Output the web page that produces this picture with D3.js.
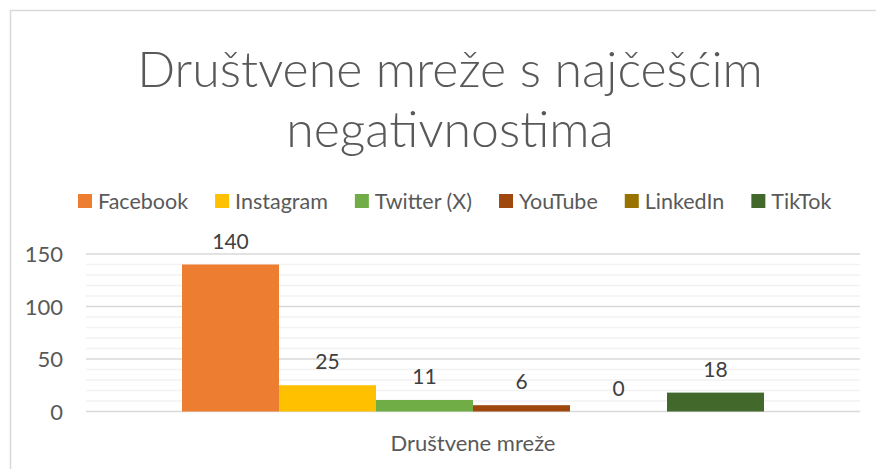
<!DOCTYPE html>
<html lang="hr">
<head>
<meta charset="UTF-8">
<title>Društvene mreže s najčešćim negativnostima</title>
<script src="https://d3js.org/d3.v7.min.js"></script>
<style>
    body { margin: 0; background: #fff; }
    svg { display: block; font-family: Lato, "Noto Sans", sans-serif; }
    .tick-label { fill: #595959; font-size: 22px; }
    .data-label { fill: #404040; font-size: 21px; }
    .legend-label { fill: #595959; font-size: 21.5px; }
</style>
</head>
<body>
<svg id="chart" width="878" height="469"></svg>
<script>
    // data
    const category = "Društvene mreže";
    const networks = ["Facebook", "Instagram", "Twitter (X)", "YouTube", "LinkedIn", "TikTok"];
    const counts = [140, 25, 11, 6, 0, 18];
    const colors = ["#ED7D31", "#FFC000", "#70AD47", "#9E480E", "#997300", "#43682B"];
    const yTicks = [0, 50, 100, 150];
    const titleLines = ["Društvene mreže s najčešćim", "negativnostima"];

    const width = 878, height = 469;
    const plot = { left: 86, right: 860, top: 254, bottom: 411.5 };

    const svg = d3.select("#chart");

    // chart area border (left and top only visible)
    svg.append("path")
        .attr("d", `M10.5,${height} V10.5 H${width - 2}`)
        .attr("fill", "none")
        .attr("stroke", "#d9d9d9")
        .attr("stroke-width", 1.5);

    // title
    svg.append("text")
        .attr("text-anchor", "middle")
        .attr("fill", "#595959")
        .attr("font-size", 50)
        .attr("font-weight", 300)
        .selectAll("tspan")
        .data(titleLines)
        .enter().append("tspan")
        .attr("x", 450)
        .attr("y", (d, i) => 87 + i * 60)
        .text(d => d);

    // legend
    const legend = svg.append("g");
    let lx = 78;
    networks.forEach((name, i) => {
        const g = legend.append("g").attr("transform", `translate(${lx},0)`);
        g.append("rect")
            .attr("x", 0).attr("y", 194)
            .attr("width", 14).attr("height", 14)
            .attr("fill", colors[i]);
        const t = g.append("text")
            .attr("class", "legend-label")
            .attr("x", 20).attr("y", 209)
            .text(name);
        lx += 20 + t.node().getComputedTextLength() + 27;
    });

    const y = d3.scaleLinear().domain([0, 150]).range([plot.bottom, plot.top]);

    const x0 = d3.scaleBand().domain([category]).range([plot.left, plot.right]).paddingInner(0).paddingOuter(0);
    // group occupies the middle of the band, gaps of about one bar each side
    const groupW = x0.bandwidth() * 582 / 774;
    const x1 = d3.scaleBand().domain(networks)
        .range([x0(category) + (x0.bandwidth() - groupW) / 2, x0(category) + (x0.bandwidth() + groupW) / 2]);

    // minor gridlines
    const minor = d3.range(10, 151, 10).filter(v => v % 50 !== 0);
    svg.append("g").selectAll("line")
        .data(minor)
        .enter().append("line")
        .attr("x1", plot.left).attr("x2", plot.right)
        .attr("y1", d => y(d)).attr("y2", d => y(d))
        .attr("stroke", "#f2f2f2").attr("stroke-width", 1.5);

    // major gridlines
    svg.append("g").selectAll("line")
        .data(yTicks)
        .enter().append("line")
        .attr("x1", plot.left).attr("x2", plot.right)
        .attr("y1", d => y(d)).attr("y2", d => y(d))
        .attr("stroke", "#d9d9d9").attr("stroke-width", 1.5);

    // y tick labels
    svg.append("g").selectAll("text")
        .data(yTicks)
        .enter().append("text")
        .attr("class", "tick-label")
        .attr("x", 63)
        .attr("y", d => y(d) + 8)
        .attr("text-anchor", "end")
        .text(d => d);

    // bars
    svg.append("g").selectAll("rect")
        .data(networks)
        .enter().append("rect")
        .attr("x", d => x1(d))
        .attr("width", x1.bandwidth())
        .attr("y", (d, i) => y(counts[i]))
        .attr("height", (d, i) => y(0) - y(counts[i]))
        .attr("fill", (d, i) => colors[i]);

    // data labels
    svg.append("g").selectAll("text")
        .data(networks)
        .enter().append("text")
        .attr("class", "data-label")
        .attr("text-anchor", "middle")
        .attr("x", d => x1(d) + x1.bandwidth() / 2)
        .attr("y", (d, i) => y(counts[i]) - 16)
        .text((d, i) => counts[i]);

    // category label
    svg.append("text")
        .attr("class", "tick-label")
        .attr("text-anchor", "middle")
        .attr("x", x0(category) + x0.bandwidth() / 2)
        .attr("y", 451)
        .text(category);
</script>
</body>
</html>
